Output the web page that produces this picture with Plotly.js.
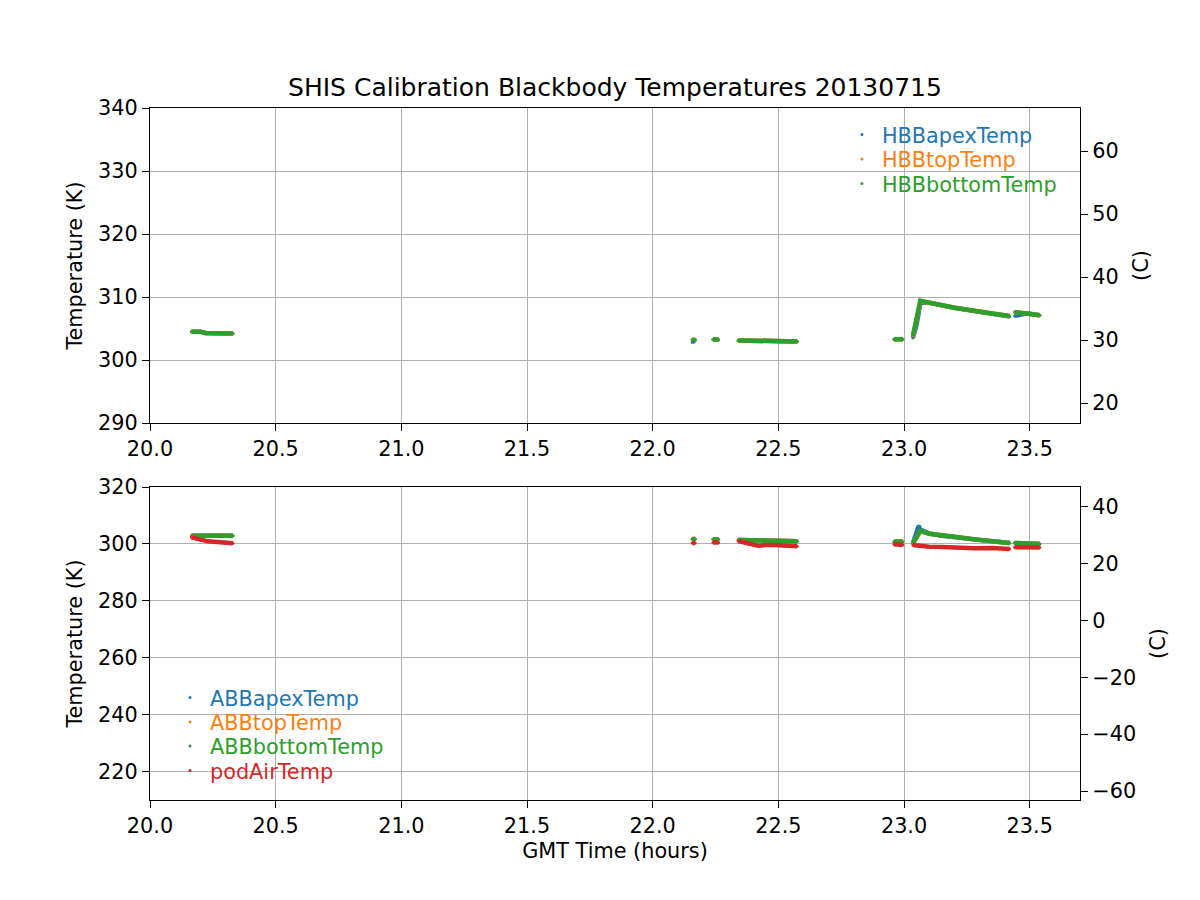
<!DOCTYPE html>
<html>
<head>
<meta charset="utf-8">
<script src="https://cdn.plot.ly/plotly-3.0.1.min.js"></script>
<style>html,body{margin:0;padding:0;background:#fff;}#chart{width:1200px;height:900px;}</style>
</head>
<body>
<div id="chart"></div>
<script>
// ---- Data (hours GMT, Kelvin); null = gap between segments ----
const hbbTime   = [20.165, 20.20, 20.22, 20.26, 20.33, null, 22.157, 22.169, null, 22.24, 22.262, null, 22.34, 22.40, 22.46, 22.47, 22.575, null, 22.96, 22.995, null, 23.035, 23.05, 23.065, 23.1, 23.2, 23.33, 23.42, null, 23.44, 23.49, 23.54];
const hbbApex   = [304.5, 304.5, 304.3, 304.2, 304.2, null, 302.8, 303.2, null, 303.3, 303.2, null, 303.1, 303.1, 303.1, 302.95, 302.95, null, 303.3, 303.3, null, 303.5, 305.6, 309.1, 309.1, 308.3, 307.5, 306.9, null, 307.0, 307.4, 307.1];
const hbbTop    = [304.5, 304.5, 304.3, 304.2, 304.2, null, 303.2, 303.2, null, 303.3, 303.2, null, 303.1, 303.1, 303.1, 302.95, 302.95, null, 303.3, 303.3, null, 303.7, 306.3, 309.3, 309.1, 308.3, 307.5, 307.0, null, 307.6, 307.4, 307.1];
const hbbBottom = [304.5, 304.5, 304.3, 304.2, 304.2, null, 303.2, 303.2, null, 303.3, 303.2, null, 303.1, 303.1, 303.1, 302.95, 302.95, null, 303.3, 303.3, null, 303.8, 306.5, 309.4, 309.1, 308.3, 307.5, 307.0, null, 307.6, 307.4, 307.1];

const abbTime   = [20.165, 20.20, 20.23, 20.28, 20.33, null, 22.157, 22.169, null, 22.24, 22.262, null, 22.34, 22.38, 22.42, 22.47, 22.52, 22.575, null, 22.96, 22.995, null, 23.035, 23.058, 23.065, 23.1, 23.15, 23.2, 23.28, 23.35, 23.42, null, 23.44, 23.54];
const abbApex   = [302.9, 302.9, 302.9, 302.9, 302.9, null, 301.7, 301.7, null, 301.6, 301.6, null, 301.4, 301.3, 301.2, 301.1, 301.0, 300.9, null, 300.8, 300.8, null, 300.2, 306.3, 305.0, 303.7, 302.9, 302.5, 301.6, 300.9, 300.3, null, 300.3, 300.0];
const abbTop    = [302.9, 302.9, 302.9, 302.9, 302.9, null, 301.7, 301.7, null, 301.6, 301.6, null, 301.4, 301.3, 301.2, 301.1, 301.0, 300.9, null, 300.8, 300.8, null, 300.2, 303.8, 304.5, 303.6, 302.9, 302.5, 301.6, 300.9, 300.3, null, 300.3, 300.0];
const abbBottom = [302.9, 302.9, 302.9, 302.9, 302.9, null, 301.7, 301.7, null, 301.6, 301.6, null, 301.4, 301.3, 301.2, 301.1, 301.0, 300.9, null, 300.8, 300.8, null, 300.2, 303.8, 304.6, 303.6, 302.9, 302.5, 301.6, 300.9, 300.3, null, 300.3, 300.0];
const podAir    = [302.3, 301.4, 300.9, 300.6, 300.2, null, 300.3, 300.3, null, 300.5, 300.5, null, 301.0, 300.0, 299.4, 299.7, 299.3, 299.2, null, 299.9, 299.6, null, 299.6, 299.3, 299.2, 299.0, 298.9, 298.7, 298.5, 298.6, 298.2, null, 298.8, 298.7];

const topNames    = ['HBBapexTemp', 'HBBtopTemp', 'HBBbottomTemp'];
const bottomNames = ['ABBapexTemp', 'ABBtopTemp', 'ABBbottomTemp', 'podAirTemp'];
const colors      = ['#1f77b4', '#ff7f0e', '#2ca02c', '#d62728'];

const titleText = 'SHIS Calibration Blackbody Temperatures 20130715';
const xTicks = [20.0, 20.5, 21.0, 21.5, 22.0, 22.5, 23.0, 23.5];
const K0 = 273.15;
const topRangeK = [290, 340];
const botRangeK = [210, 320];
const xRange = [20.0, 23.7];

// ---- Build traces ----
const FONT = 'DejaVu Sans, Liberation Sans, sans-serif';
const traces = [];
function legendId(n) { return n === 1 ? 'legend' : 'legend' + n; }
function addSeries(x, y, name, color, xa, ya, lg) {
  traces.push({
    x: x, y: y, name: '<span style="color:' + color + '">' + name + '</span>',
    type: 'scatter', mode: 'markers', xaxis: xa, yaxis: ya, legend: lg,
    marker: {color: color, size: 3}, hoverinfo: 'x+y'
  });
}
function addLine(x, y, color, xa, ya) {
  traces.push({
    x: x, y: y, type: 'scatter', mode: 'lines', xaxis: xa, yaxis: ya,
    line: {color: color, width: 4.5}, connectgaps: false, showlegend: false, hoverinfo: 'skip'
  });
}
const topSeries = [hbbApex, hbbTop, hbbBottom];
topSeries.forEach((ys, i) => addSeries(hbbTime, ys, topNames[i], colors[i], 'x', 'y', legendId(i + 1)));
topSeries.forEach((ys, i) => addLine(hbbTime, ys, colors[i], 'x', 'y'));
const botSeries = [abbApex, abbTop, abbBottom, podAir];
botSeries.forEach((ys, i) => addSeries(abbTime, ys, bottomNames[i], colors[i], 'x2', 'y3', legendId(i + 4)));
botSeries.forEach((ys, i) => addLine(abbTime, ys, colors[i], 'x2', 'y3'));
// invisible traces so the Celsius axes are drawn
traces.push({x: [null], y: [null], type: 'scatter', mode: 'markers', xaxis: 'x', yaxis: 'y2', showlegend: false, hoverinfo: 'skip'});
traces.push({x: [null], y: [null], type: 'scatter', mode: 'markers', xaxis: 'x2', yaxis: 'y4', showlegend: false, hoverinfo: 'skip'});

const tickFont = {family: FONT, size: 20.8, color: '#000'};
const gridC = '#b0b0b0';
function xAxis(anchor, withTitle) {
  const a = {
    domain: [0, 1], anchor: anchor, range: xRange, tickvals: xTicks, tickformat: '.1f',
    showgrid: true, gridcolor: gridC, gridwidth: 1.2, zeroline: false,
    showline: true, linecolor: '#000', linewidth: 1.3, mirror: true,
    ticks: 'outside', ticklen: 7, tickwidth: 1.2, tickcolor: '#000', tickfont: tickFont
  };
  if (withTitle) a.title = {text: 'GMT Time (hours)', font: tickFont, standoff: 6};
  return a;
}
function yLeft(domain, anchor, range, dtick) {
  return {
    domain: domain, anchor: anchor, range: range, dtick: dtick, tick0: 0,
    showgrid: true, gridcolor: gridC, gridwidth: 1.2, zeroline: false,
    showline: true, linecolor: '#000', linewidth: 1.3,
    ticks: 'outside', ticklen: 7, tickwidth: 1.2, tickcolor: '#000', tickfont: tickFont,
    title: {text: 'Temperature (K)', font: tickFont, standoff: 9}
  };
}
function yRight(over, anchor, rangeK, dtick) {
  return {
    overlaying: over, anchor: anchor, side: 'right', range: [rangeK[0] - K0, rangeK[1] - K0],
    dtick: dtick, tick0: 0, showgrid: false, zeroline: false,
    showline: true, linecolor: '#000', linewidth: 1.3,
    ticks: 'outside', ticklen: 7, tickwidth: 1.2, tickcolor: '#000', tickfont: tickFont,
    title: {text: '(C)', font: tickFont, standoff: 15}
  };
}

const layout = {
  width: 1200, height: 900,
  paper_bgcolor: '#fff', plot_bgcolor: '#fff',
  margin: {l: 150, r: 120, t: 108, b: 100},
  font: {family: FONT, size: 20.8, color: '#000'},
  title: {text: titleText, font: {family: FONT, size: 25, color: '#000'}, x: 0.5125, xanchor: 'center', y: 1 - 87/900, yanchor: 'middle'},
  xaxis: xAxis('y', false),
  yaxis: yLeft([(800 - 423) / 692, 1], 'x', topRangeK, 10),
  yaxis2: yRight('y', 'x', topRangeK, 10),
  xaxis2: xAxis('y3', true),
  yaxis3: yLeft([0, (800 - 487) / 692], 'x2', botRangeK, 20),
  yaxis4: yRight('y3', 'x2', botRangeK, 20),
  showlegend: true
};
// one legend per entry so the row spacing matches the reference
const legendX = [0.744, 0.744, 0.744, 0.0215, 0.0215, 0.0215, 0.0215];
const legendY = [0.9908, 0.9553, 0.9199, 0.1772, 0.1418, 0.1071, 0.0717];
legendX.forEach((lx, i) => {
  layout[legendId(i + 1)] = {
    x: lx, xanchor: 'left', y: legendY[i], yanchor: 'top',
    bgcolor: 'rgba(0,0,0,0)', borderwidth: 0, font: {family: FONT, size: 20.8}, itemwidth: 30
  };
});

Plotly.newPlot('chart', traces, layout, {displayModeBar: false});
</script>
</body>
</html>
